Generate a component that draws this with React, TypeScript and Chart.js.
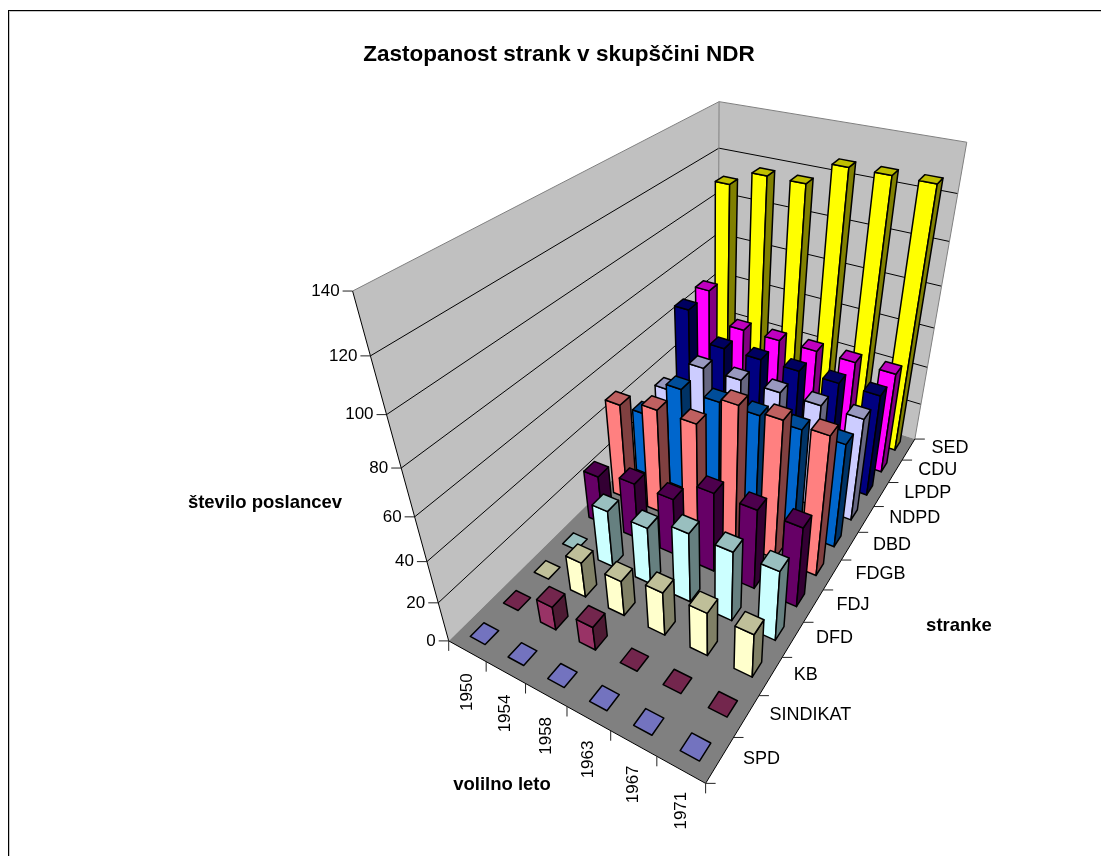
import React, { useEffect, useRef } from "react";
import { Chart, registerables } from "chart.js";

Chart.register(...registerables);

const years = ["1950", "1954", "1958", "1963", "1967", "1971"];
const parties = ["SPD", "SINDIKAT", "KB", "DFD", "FDJ", "FDGB", "DBD", "NDPD", "LPDP", "CDU", "SED"];
const valueTicks = [0, 20, 40, 60, 80, 100, 120, 140];

const SPD = [0, 0, 0, 0, 0, 0];
const SINDIKAT = [0, 12, 12, 0, 0, 0];
const KB = [0, 18, 18, 22, 22, 22];
const DFD = [0, 29, 29, 35, 35, 35];
const FDJ = [25, 29, 29, 40, 40, 40];
const FDGB = [49, 53, 53, 68, 68, 68];
const DBD = [33, 52, 52, 52, 52, 52];
const NDPD = [35, 52, 52, 52, 52, 52];
const LPDP = [66, 52, 52, 52, 52, 52];
const CDU = [67, 52, 52, 52, 52, 52];
const SED = [110, 117, 117, 127, 127, 127];

const seriesValues = [SPD, SINDIKAT, KB, DFD, FDJ, FDGB, DBD, NDPD, LPDP, CDU, SED];
const seriesColors = ["#9999FF", "#993366", "#FFFFCC", "#CCFFFF", "#660066", "#FF8080", "#0066CC", "#CCCCFF", "#000080", "#FF00FF", "#FFFF00"];

// Camera calibration: [u, v, w, screen x, screen y] of the box's edges.
const calibration: number[][] = [
  ...[[448, 641], [437, 601], [427, 561], [415, 517], [402, 469], [387, 414], [370, 356], [352, 291]].map((p, k) => [0, 0, k / 7, p[0], p[1]]),
  ...[[487, 662], [526, 684], [567, 707], [612, 732], [657, 757], [705, 783]].map((p, k) => [(k + 1) / 6, 0, 0, p[0], p[1]]),
  ...[[733, 737], [759, 695], [783, 657], [803, 622], [823, 590], [841, 560], [857, 533], [874, 506], [888, 483], [903, 461], [915, 438]].map((p, k) => [1, (k + 1) / 11, 0, p[0], p[1]]),
  [0, 1, 1, 719, 102],
  [1, 1, 1, 967, 142],
];

function solveCamera(points: number[][]): number[] {
  const n = 11;
  const M: number[][] = Array.from({ length: n }, () => new Array(n + 1).fill(0));
  const add = (row: number[], rhs: number) => {
    for (let i = 0; i < n; i++) {
      for (let j = 0; j < n; j++) M[i][j] += row[i] * row[j];
      M[i][n] += row[i] * rhs;
    }
  };
  for (const [u, v, w, px, py] of points) {
    const x = px / 1000;
    const y = py / 1000;
    add([u, v, w, 1, 0, 0, 0, 0, -x * u, -x * v, -x * w], x);
    add([0, 0, 0, 0, u, v, w, 1, -y * u, -y * v, -y * w], y);
  }
  for (let c = 0; c < n; c++) {
    let best = c;
    for (let r = c + 1; r < n; r++) if (Math.abs(M[r][c]) > Math.abs(M[best][c])) best = r;
    [M[c], M[best]] = [M[best], M[c]];
    for (let r = 0; r < n; r++) {
      if (r === c) continue;
      const f = M[r][c] / M[c][c];
      for (let k = c; k <= n; k++) M[r][k] -= f * M[c][k];
    }
  }
  return M.map((row, i) => row[n] / row[i]);
}

const cam = solveCamera(calibration);
type P = [number, number];
function project(u: number, v: number, w: number): P {
  const d = cam[8] * u + cam[9] * v + cam[10] * w + 1;
  return [
    (1000 * (cam[0] * u + cam[1] * v + cam[2] * w + cam[3])) / d,
    (1000 * (cam[4] * u + cam[5] * v + cam[6] * w + cam[7])) / d,
  ];
}

function shade(hex: string, f: number): string {
  const n = parseInt(hex.slice(1), 16);
  return `rgb(${Math.round(((n >> 16) & 255) * f)},${Math.round(((n >> 8) & 255) * f)},${Math.round((n & 255) * f)})`;
}

const FONT = '"Liberation Sans", Arial, sans-serif';
const VALUE_FONT = `17px ${FONT}`;
const PARTY_FONT = `18px ${FONT}`;
const BOLD_FONT = `bold 18.5px ${FONT}`;
const BAR_HALF = 0.2;
const BAR_LINE = 1.5;

function poly(ctx: CanvasRenderingContext2D, pts: P[], fill: string | null, stroke: string | null, lw = 1) {
  ctx.beginPath();
  pts.forEach((p, i) => (i ? ctx.lineTo(p[0], p[1]) : ctx.moveTo(p[0], p[1])));
  ctx.closePath();
  if (fill) {
    ctx.fillStyle = fill;
    ctx.fill();
  }
  if (stroke) {
    ctx.strokeStyle = stroke;
    ctx.lineWidth = lw;
    ctx.stroke();
  }
}

function seg(ctx: CanvasRenderingContext2D, a: P, b: P, color: string, lw = 1) {
  ctx.beginPath();
  ctx.moveTo(a[0], a[1]);
  ctx.lineTo(b[0], b[1]);
  ctx.strokeStyle = color;
  ctx.lineWidth = lw;
  ctx.stroke();
}

const box3d = {
  id: "box3d",
  beforeDatasetsDraw(chart: any) {
    const ctx: CanvasRenderingContext2D = chart.ctx;
    const sx = chart.scales.x;
    const sz = chart.scales.z;
    const sy = chart.scales.y;
    const U = (i: number) => (sx.getPixelForValue(i) - sx.left) / sx.width;
    const V = (j: number) => (sz.getPixelForValue(j) - sz.left) / sz.width;
    const W = (val: number) => (sy.bottom - sy.getPixelForValue(val)) / sy.height;
    const nU = years.length;
    const nV = parties.length;
    const u0 = U(-0.5), u1 = U(nU - 0.5), v0 = V(-0.5), v1 = V(nV - 0.5);

    ctx.save();
    ctx.lineJoin = "round";

    // frame: only its top and left edges fall inside the picture
    ctx.fillStyle = "#C8C8C8";
    ctx.fillRect(9, 11, 1092, 1);
    ctx.fillRect(9, 11, 1, 845);
    ctx.fillStyle = "#000";
    ctx.fillRect(8, 10, 1093, 1);
    ctx.fillRect(8, 10, 1, 846);

    // walls and floor
    const wallColor = "#C0C0C0";
    const wallEdge = "#808080";
    poly(ctx, [project(u0, v0, 0), project(u0, v1, 0), project(u0, v1, 1), project(u0, v0, 1)], wallColor, null);
    poly(ctx, [project(u0, v1, 0), project(u1, v1, 0), project(u1, v1, 1), project(u0, v1, 1)], wallColor, null);
    poly(ctx, [project(u0, v0, 0), project(u1, v0, 0), project(u1, v1, 0), project(u0, v1, 0)], "#808080", null);

    // gridlines
    for (const t of valueTicks) {
      if (t === 0 || t === 140) continue;
      const w = W(t);
      seg(ctx, project(u0, v0, w), project(u0, v1, w), "#000");
      seg(ctx, project(u0, v1, w), project(u1, v1, w), "#000");
    }
    seg(ctx, project(u0, v0, 1), project(u0, v1, 1), wallEdge);
    seg(ctx, project(u0, v1, 1), project(u1, v1, 1), wallEdge);
    seg(ctx, project(u1, v1, 1), project(u1, v1, 0), wallEdge);
    seg(ctx, project(u0, v1, 1), project(u0, v1, 0), wallEdge);
    seg(ctx, project(u0, v0, 0), project(u0, v0, 1), "#000");
    seg(ctx, project(u0, v0, 0), project(u1, v0, 0), "#000");
    seg(ctx, project(u1, v0, 0), project(u1, v1, 0), "#000");

    // ticks and labels
    ctx.fillStyle = "#000";
    ctx.font = VALUE_FONT;
    ctx.textBaseline = "middle";
    ctx.textAlign = "right";
    for (const t of valueTicks) {
      const p = project(u0, v0, W(t));
      seg(ctx, p, [p[0] - 10, p[1]], "#222");
      ctx.fillStyle = "#000";
      ctx.fillText(String(t), p[0] - 13, p[1]);
    }
    for (let i = 0; i <= nU; i++) {
      const p = project(U(i - 0.5), v0, 0);
      seg(ctx, p, [p[0], p[1] + 10], "#222");
    }
    for (let j = 0; j <= nV; j++) {
      const p = project(u1, V(j - 0.5), 0);
      seg(ctx, p, [p[0] + 10, p[1]], "#222");
    }
    ctx.fillStyle = "#000";
    ctx.textAlign = "center";
    years.forEach((name, i) => {
      const p = project(U(i), v0, 0);
      ctx.save();
      ctx.translate(p[0], p[1] + 41);
      ctx.rotate(-Math.PI / 2);
      ctx.fillText(name, 0, 0);
      ctx.restore();
    });
    ctx.font = PARTY_FONT;
    ctx.textAlign = "left";
    parties.forEach((name, j) => {
      const p = project(u1, V(j), 0);
      ctx.fillText(name, p[0] + 23, p[1] - 1);
    });

    // axis titles
    ctx.font = BOLD_FONT;
    ctx.textAlign = "center";
    ctx.fillText("število poslancev", 265, 503);
    ctx.fillText("volilno leto", 502, 785);
    ctx.fillText("stranke", 959, 626);

    // bars: far rows first, left to right
    for (let j = nV - 1; j >= 0; j--) {
      const meta = chart.getDatasetMeta(j);
      const color = chart.data.datasets[j].backgroundColor as string;
      for (let i = 0; i < nU; i++) {
        const value = (meta._parsed[i] as any).y as number;
        const a = U(i - BAR_HALF), b = U(i + BAR_HALF);
        const c = V(j - BAR_HALF), d = V(j + BAR_HALF);
        const h = W(value);
        const top: P[] = [project(a, c, h), project(b, c, h), project(b, d, h), project(a, d, h)];
        if (value > 0) {
          poly(ctx, [project(a, c, 0), project(b, c, 0), project(b, c, h), project(a, c, h)], color, "#000", BAR_LINE);
          poly(ctx, [project(b, c, 0), project(b, d, 0), project(b, d, h), project(b, c, h)], shade(color, 0.5), "#000", BAR_LINE);
        }
        poly(ctx, top, shade(color, 0.75), "#000", BAR_LINE);
      }
    }
    ctx.restore();
    return false;
  },
};

export default function App() {
  const ref = useRef<HTMLCanvasElement>(null);
  useEffect(() => {
    const chart = new Chart(ref.current as HTMLCanvasElement, {
      type: "bar",
      data: {
        labels: years,
        datasets: parties.map((name, j) => ({
          label: name,
          data: seriesValues[j],
          backgroundColor: seriesColors[j],
        })),
      },
      options: {
        responsive: false,
        animation: false,
        devicePixelRatio: 1,
        layout: { padding: { top: 41, left: 17 } },
        plugins: {
          legend: { display: false },
          tooltip: { enabled: false },
          title: {
            display: true,
            text: "Zastopanost strank v skupščini NDR",
            color: "#000",
            font: { family: FONT, size: 22.5, weight: "bold" },
            padding: { top: 0, bottom: 0 },
          },
        },
        scales: {
          x: { type: "category", offset: true, display: false },
          z: { type: "category", axis: "x", labels: parties, offset: true, display: false, position: "bottom" },
          y: { type: "linear", min: 0, max: 140, display: false },
        },
      } as any,
      plugins: [box3d as any],
    });
    return () => chart.destroy();
  }, []);
  return (
    <canvas
      ref={ref}
      width={1101}
      height={856}
      style={{ position: "absolute", left: 0, top: 0, width: 1101, height: 856, background: "#fff" }}
    />
  );
}
